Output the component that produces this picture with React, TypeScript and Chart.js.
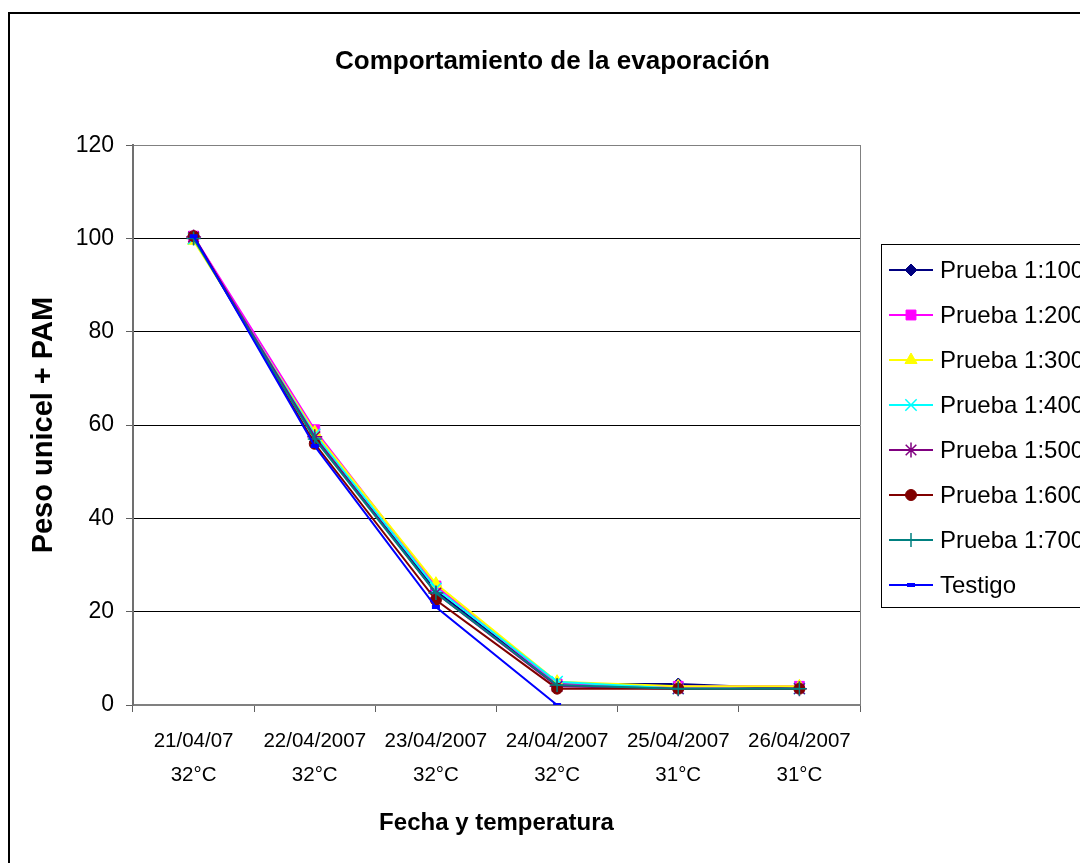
import React, { useEffect, useRef } from 'react';
import { Chart, registerables } from 'chart.js';
import { drawPoint } from 'chart.js/helpers';

Chart.register(...registerables);

// ---- data ----
const dates = ['21/04/07', '22/04/2007', '23/04/2007', '24/04/2007', '25/04/2007', '26/04/2007'];
const temps = ['32°C', '32°C', '32°C', '32°C', '31°C', '31°C'];
const seriesNames = [
  'Prueba 1:100',
  'Prueba 1:200',
  'Prueba 1:300',
  'Prueba 1:400',
  'Prueba 1:500',
  'Prueba 1:600',
  'Prueba 1:700',
  'Testigo',
];
const prueba100 = [100.5, 57.5, 24.5, 4.5, 4.5, 3.5];
const prueba200 = [100.5, 59, 25.5, 4.5, 4, 4];
const prueba300 = [99.5, 58.5, 26, 5, 4, 4];
const prueba400 = [100, 58, 25, 5, 3.5, 3.5];
const prueba500 = [100.3, 57.5, 24, 4, 3.5, 3.5];
const prueba600 = [100.5, 56, 22.5, 3.5, 3.5, 3.5];
const prueba700 = [100, 57, 24, 4.3, 3.5, 3.5];
const testigo = [100.5, 55.5, 21, 0, null, null];
const yTicks = [0, 20, 40, 60, 80, 100, 120];

const chartTitle = 'Comportamiento de la evaporación';
const xTitle = 'Fecha y temperatura';
const yTitle = 'Peso unicel + PAM';

// ---- styles ----
const colors = ['#000080', '#FF00FF', '#FFFF00', '#00FFFF', '#800080', '#800000', '#008080', '#0000FF'];
const pointStyles = ['rectRot', 'rect', 'triangle', 'crossRot', 'star', 'circle', 'cross', 'line'];
const pointRadii = [6, 7, 7, 8, 7.5, 5.5, 7, 4];
const pointBorders = [1, 1, 1, 1.5, 1.5, 1, 1.5, 4];

const FONT = "'Liberation Sans', Arial, sans-serif";

const seriesValues = [prueba100, prueba200, prueba300, prueba400, prueba500, prueba600, prueba700, testigo];

const legendBox = {
  id: 'legendBox',
  afterDraw(chart: any) {
    const ctx = chart.ctx as CanvasRenderingContext2D;
    const area = chart.chartArea;
    const x0 = area.right + 21;
    const h = 363;
    const y0 = Math.round((area.top + area.bottom) / 2 - h / 2);
    ctx.save();
    ctx.strokeStyle = '#000';
    ctx.lineWidth = 1;
    ctx.strokeRect(x0 + 0.5, y0 + 0.5, 260, h);
    chart.data.datasets.forEach((ds: any, i: number) => {
      const y = y0 + 26 + i * 45;
      ctx.strokeStyle = ds.borderColor;
      ctx.lineWidth = 2;
      ctx.beginPath();
      ctx.moveTo(x0 + 8, y);
      ctx.lineTo(x0 + 52, y);
      ctx.stroke();
      ctx.fillStyle = ds.pointBackgroundColor;
      ctx.strokeStyle = ds.pointBorderColor;
      ctx.lineWidth = ds.pointBorderWidth;
      drawPoint(ctx, { pointStyle: ds.pointStyle, radius: ds.pointRadius, borderWidth: ds.pointBorderWidth, rotation: 0 } as any, x0 + 30, y);
      ctx.fillStyle = '#000';
      ctx.font = `24px ${FONT}`;
      ctx.textAlign = 'left';
      ctx.textBaseline = 'middle';
      ctx.fillText(ds.label, x0 + 59, y + 1);
    });
    ctx.restore();
  },
};

export default function App() {
  const ref = useRef<HTMLCanvasElement | null>(null);

  useEffect(() => {
    if (!ref.current) return;
    const labels = dates.map((d, i) => [d, temps[i]]);
    const datasets = seriesNames.map((name, i) => ({
      label: name,
      data: seriesValues[i],
      borderColor: colors[i],
      backgroundColor: colors[i],
      pointBackgroundColor: colors[i],
      pointBorderColor: colors[i],
      pointStyle: pointStyles[i],
      pointRadius: pointRadii[i],
      pointBorderWidth: pointBorders[i],
      borderWidth: 2,
      tension: 0,
      order: seriesNames.length - 1 - i,
      yAxisID: 'y',
    }));

    const chart = new Chart(ref.current, {
      type: 'line',
      data: { labels, datasets },
      plugins: [legendBox],
      options: {
        animation: false,
        responsive: false,
        devicePixelRatio: 1,
        layout: { padding: 0 },
        plugins: {
          legend: { display: false },
          tooltip: { enabled: false },
          title: {
            display: true,
            text: chartTitle,
            color: '#000',
            font: { family: FONT, size: 26, weight: 'bold', lineHeight: 1.2 },
            padding: { top: 32, bottom: 68 },
          },
        },
        scales: {
          x: {
            type: 'category',
            offset: true,
            grid: {
              display: true,
              drawOnChartArea: false,
              drawTicks: true,
              tickLength: 7,
              tickColor: '#606060',
              offset: true,
            },
            border: { display: true, color: '#808080', width: 2 },
            ticks: {
              color: '#000',
              font: { family: FONT, size: 20.5, lineHeight: 1.66 },
              padding: 12,
              maxRotation: 0,
              autoSkip: false,
            },
            title: {
              display: true,
              text: xTitle,
              color: '#000',
              font: { family: FONT, size: 24, weight: 'bold', lineHeight: 1.2 },
              padding: { top: 0, bottom: 25 },
            },
            afterFit(s: any) {
              s.height = 158;
            },
          },
          y: {
            type: 'linear',
            position: 'left',
            min: 0,
            max: 120,
            afterBuildTicks(s: any) {
              s.ticks = yTicks.map((v) => ({ value: v }));
            },
            grid: {
              color: (c: any) => (c.tick && (c.tick.value === 120 || c.tick.value === 0) ? '#808080' : '#000'),
              lineWidth: 1,
              tickLength: 7,
              tickColor: '#606060',
            },
            border: { display: true, color: '#707070', width: 2 },
            ticks: {
              color: '#000',
              font: { family: FONT, size: 23 },
              padding: 12,
            },
            title: {
              display: true,
              text: yTitle,
              color: '#000',
              font: { family: FONT, size: 29, weight: 'bold', lineHeight: 1.2 },
              padding: { top: 17, bottom: 0 },
            },
            afterFit(s: any) {
              s.width = 123;
            },
          },
          pad: {
            type: 'linear',
            position: 'right',
            display: true,
            grid: { display: false, drawTicks: false },
            ticks: { display: false },
            border: { display: true, color: '#808080', width: 1 },
            afterFit(s: any) {
              s.width = 235;
            },
          },
        },
      } as any,
    });
    return () => chart.destroy();
  }, []);

  return (
    <div style={{ position: 'fixed', left: 0, top: 0, width: 1080, height: 863, overflow: 'hidden', background: '#fff' }}>
      <div
        style={{
          position: 'absolute',
          left: 8,
          top: 12,
          width: 1095,
          height: 870,
          border: '2px solid #000',
          background: '#fff',
        }}
      >
        <canvas ref={ref} width={1085} height={849} style={{ display: 'block', width: 1085, height: 849 }} />
      </div>
    </div>
  );
}
